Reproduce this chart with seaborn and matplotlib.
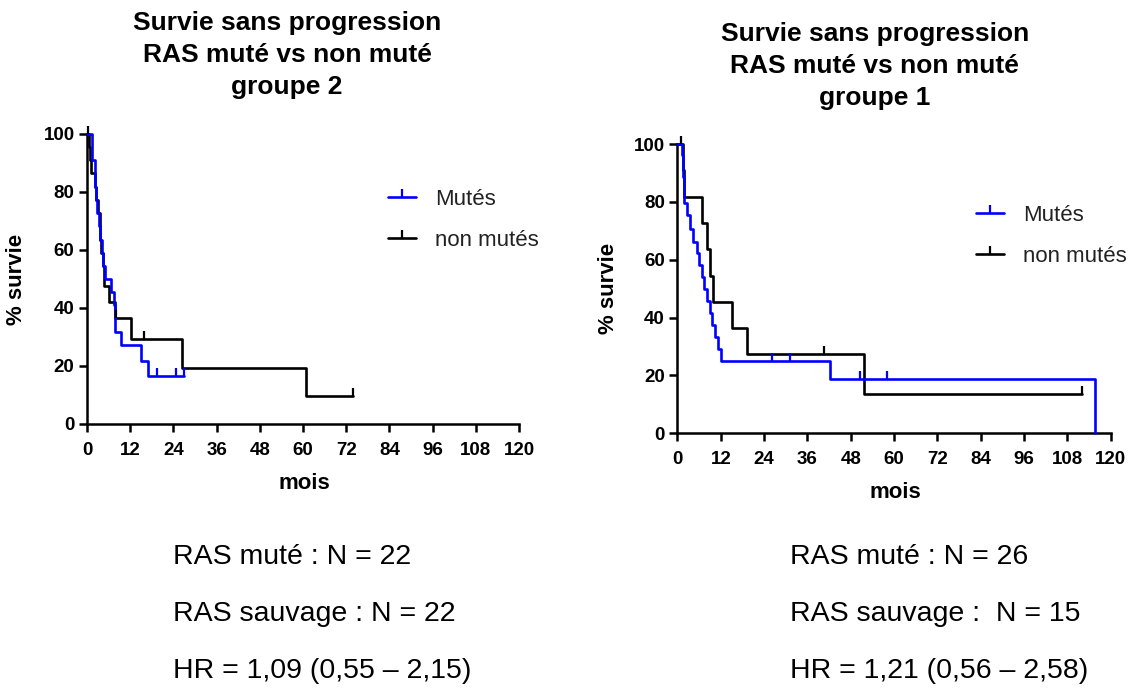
import numpy as np
import pandas as pd
import matplotlib
matplotlib.use("Agg")
import matplotlib.pyplot as plt
from matplotlib.lines import Line2D
import seaborn as sns

# ---- Kaplan-Meier step data (months, % survival) ----
# Groupe 2
g2_mut_t = [0, 1.3, 2.1, 2.5, 2.9, 3.3, 3.7, 4.1, 4.5, 4.9, 6.6, 7.5, 7.7, 7.8, 9.3, 15.1, 17.0, 27.0]
g2_mut_s = [100, 90.9, 81.8, 77.3, 72.7, 68.2, 63.6, 59.1, 54.5, 50.0, 45.5, 40.9, 36.4, 31.8, 27.3, 21.8, 16.4, 16.4]
g2_mut_cens_t = [19.3, 24.8, 27.0]
g2_mut_cens_s = [16.4, 16.4, 16.4]

g2_non_t = [0, 0.6, 0.8, 1.0, 2.1, 2.6, 3.1, 3.5, 3.7, 4.0, 4.3, 4.6, 6.1, 7.7, 12.3, 26.3, 60.7, 73.9]
g2_non_s = [100, 95.5, 90.9, 86.4, 81.8, 77.3, 72.7, 68.2, 63.6, 59.1, 54.5, 47.5, 42.0, 36.7, 29.4, 19.4, 9.6, 9.6]
g2_non_cens_t = [0.4, 8.0, 15.7, 73.9]
g2_non_cens_s = [100, 36.7, 29.4, 9.6]

# Groupe 1
g1_mut_t = [0, 1.3, 1.6, 1.8, 2.7, 3.5, 4.4, 5.3, 6.0, 6.7, 7.4, 8.3, 9.0, 9.5, 10.4, 11.1, 12.0, 42.2, 115.8]
g1_mut_s = [100, 96.2, 88.5, 79.6, 75.4, 70.6, 66.2, 62.2, 58.2, 54.1, 50.0, 45.8, 41.7, 37.5, 33.3, 29.2, 25.0, 18.75, 0]
g1_mut_cens_t = [26.3, 31.2, 50.6, 58.0]
g1_mut_cens_s = [25.0, 25.0, 18.75, 18.75]

g1_non_t = [0, 1.4, 1.9, 6.9, 8.3, 9.0, 9.9, 15.0, 19.2, 51.7, 112.0]
g1_non_s = [100, 90.9, 81.8, 72.7, 63.6, 54.5, 45.5, 36.4, 27.3, 13.6, 13.6]
g1_non_cens_t = [1.0, 40.6, 112.0]
g1_non_cens_s = [100, 27.3, 13.6]

series_labels = ["Mutés", "non mutés"]
x_ticks = list(range(0, 121, 12))
y_ticks = list(range(0, 101, 20))

titles = ["Survie sans progression\nRAS muté vs non muté\ngroupe 2",
          "Survie sans progression\nRAS muté vs non muté\ngroupe 1"]
notes = [["RAS muté : N = 22", "RAS sauvage : N = 22", "HR = 1,09 (0,55 – 2,15)"],
         ["RAS muté : N = 26", "RAS sauvage :  N = 15", "HR = 1,21 (0,56 – 2,58)"]]

BLUE = "#0000ff"
BLACK = "#000000"

sns.set_style("ticks")
plt.rcParams["font.family"] = ["Liberation Sans", "DejaVu Sans"]
plt.rcParams.update({"text.color": "black", "axes.labelcolor": "black",
                     "xtick.color": "black", "ytick.color": "black",
                     "axes.edgecolor": "black"})

fig = plt.figure(figsize=(11.39, 6.91), dpi=100)
ax_left = fig.add_axes([0.0764, 0.3864, 0.3793, 0.4197])
ax_right = fig.add_axes([0.5948, 0.3729, 0.3803, 0.4187])

groups = [
    (ax_left,
     [(g2_mut_t, g2_mut_s, g2_mut_cens_t, g2_mut_cens_s, BLUE),
      (g2_non_t, g2_non_s, g2_non_cens_t, g2_non_cens_s, BLACK)],
     (0.697, 0.81), (-0.138, -0.169)),
    (ax_right,
     [(g1_mut_t, g1_mut_s, g1_mut_cens_t, g1_mut_cens_s, BLUE),
      (g1_non_t, g1_non_s, g1_non_cens_t, g1_non_cens_s, BLACK)],
     (0.690, 0.79), (-0.134, -0.168)),
]

for ax, curves, leg_pos, (ylab_x, xlab_y) in groups:
    # draw non-mutated first so the blue curve sits on top
    for t, s, ct, cs, col in reversed(curves):
        df = pd.DataFrame({"mois": t, "survie": s})
        sns.lineplot(data=df, x="mois", y="survie", ax=ax, color=col,
                     estimator=None, sort=False, drawstyle="steps-post",
                     linewidth=1.9, clip_on=False, zorder=3)
        ax.plot(ct, cs, linestyle="none", marker=2, markersize=5.5,
                markeredgewidth=1.6, color=col, clip_on=False, zorder=4)

    ax.set_xlim(0, 120)
    ax.set_ylim(0, 100)
    ax.set_xticks(x_ticks)
    ax.set_yticks(y_ticks)
    ax.set_xticklabels([str(v) for v in x_ticks], fontsize=13.5, fontweight="bold")
    ax.set_yticklabels([str(v) for v in y_ticks], fontsize=13.5, fontweight="bold")
    ax.tick_params(axis="x", length=6, width=1.8, pad=7, color="black")
    ax.tick_params(axis="y", length=6, width=1.8, pad=3, color="black")
    for side in ("left", "bottom"):
        ax.spines[side].set_linewidth(1.8)
        ax.spines[side].set_color("black")
    sns.despine(ax=ax)
    ax.set_xlabel("mois", fontsize=16, fontweight="bold")
    ax.set_ylabel("% survie", fontsize=16, fontweight="bold")
    ax.xaxis.set_label_coords(0.503, xlab_y)
    ax.yaxis.set_label_coords(ylab_x, 0.5)

    handles = [Line2D([], [], color=col, lw=1.9, marker=2, markersize=5.5,
                      markeredgewidth=1.6)
               for (_, _, _, _, col) in curves]
    leg = ax.legend(handles, series_labels, loc="upper left",
                    bbox_to_anchor=leg_pos, frameon=False, fontsize=16,
                    handlelength=1.25, handletextpad=0.85, labelspacing=0.9,
                    borderpad=0, borderaxespad=0)
    for txt in leg.get_texts():
        txt.set_color("#222222")

# titles
fig.text(0.252, 1 - 55 / 691, titles[0], ha="center", va="center",
         fontsize=19, fontweight="bold", linespacing=1.42)
fig.text(0.768, 1 - 66 / 691, titles[1], ha="center", va="center",
         fontsize=19, fontweight="bold", linespacing=1.42)

# summary statistics under each chart
for x_px, lines in zip([173, 790], notes):
    for y_px, line in zip([557, 614, 671], lines):
        fig.text(x_px / 1139, 1 - y_px / 691, line, ha="left", va="center",
                 fontsize=20.5, color="black")

fig.savefig("out.png", dpi=100)
